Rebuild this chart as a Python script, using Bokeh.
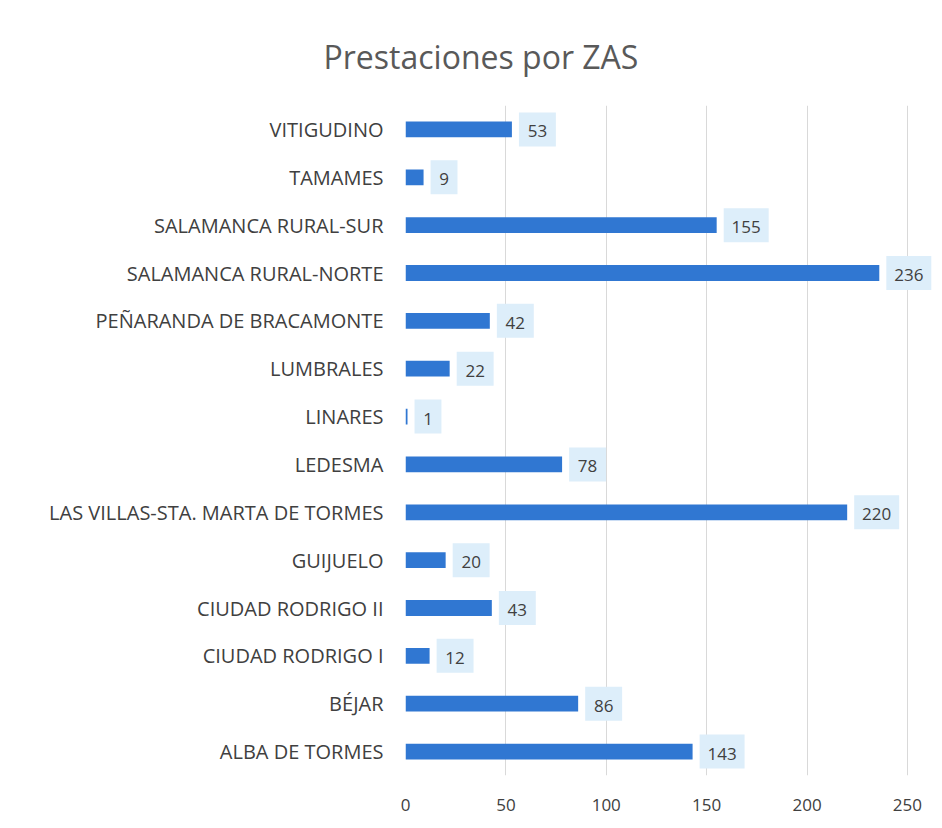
from bokeh.plotting import figure
from bokeh.models import ColumnDataSource, FactorRange, Range1d, FixedTicker
from bokeh.core.properties import value
from bokeh.embed import file_html
from bokeh.resources import INLINE

categories = ["VITIGUDINO", "TAMAMES", "SALAMANCA RURAL-SUR", "SALAMANCA RURAL-NORTE",
              "PEÑARANDA DE BRACAMONTE", "LUMBRALES", "LINARES", "LEDESMA",
              "LAS VILLAS-STA. MARTA DE TORMES", "GUIJUELO", "CIUDAD RODRIGO II",
              "CIUDAD RODRIGO I", "BÉJAR", "ALBA DE TORMES"]
values = [53, 9, 155, 236, 42, 22, 1, 78, 220, 20, 43, 12, 86, 143]
x_ticks = [0, 50, 100, 150, 200, 250]

# label box geometry (in x data units): gap after bar, width by digit count
gap = 3.5
box_w = {1: 13.4, 2: 18.4, 3: 22.4}
lefts = [v + gap for v in values]
rights = [l + box_w[len(str(v))] for l, v in zip(lefts, values)]
mids = [(l + r) / 2 for l, r in zip(lefts, rights)]

source = ColumnDataSource(dict(cat=categories, val=values, txt=[str(v) for v in values],
                               bl=lefts, br=rights, bm=mids))

p = figure(width=936, height=822, output_backend="svg", toolbar_location=None,
           y_range=FactorRange(factors=list(reversed(categories)), range_padding=0),
           x_range=Range1d(0, 263),
           min_border_left=405, min_border_right=3, min_border_top=105, min_border_bottom=47,
           title="Prestaciones por ZAS")

p.hbar(y="cat", right="val", left=0, height=0.33, source=source,
       fill_color="#3077d2", line_color=None)

p.hbar(y="cat", left="bl", right="br", height=0.71, source=source,
       fill_color="#ddeefa", line_color=None)

p.text(x="bm", y="cat", text="txt", source=source, y_offset=2,
       text_align="center", text_baseline="middle",
       text_font=value("Open Sans"), text_font_size="17px", text_color="#404040")

p.title.text_font = "Open Sans"
p.title.text_font_size = "32px"
p.title.text_font_style = "normal"
p.title.text_color = "#595959"
p.title.align = "left"
p.title.offset = -82
p.title.standoff = 55

p.xaxis.ticker = FixedTicker(ticks=x_ticks)
p.xaxis.axis_line_color = None
p.xaxis.major_tick_line_color = None
p.xaxis.minor_tick_line_color = None
p.xaxis.major_label_text_font = "Open Sans"
p.xaxis.major_label_text_font_size = "17px"
p.xaxis.major_label_text_color = "#404040"
p.xaxis.major_label_standoff = 17

p.yaxis.axis_line_color = None
p.yaxis.major_tick_line_color = None
p.yaxis.minor_tick_line_color = None
p.yaxis.major_label_text_font = "Open Sans"
p.yaxis.major_label_text_font_size = "20px"
p.yaxis.major_label_text_color = "#404040"
p.yaxis.major_label_standoff = 16

p.ygrid.grid_line_color = None
p.xgrid.grid_line_color = "#d9d9d9"
p.outline_line_color = None

open("out.html", "w").write(file_html(p, INLINE))
